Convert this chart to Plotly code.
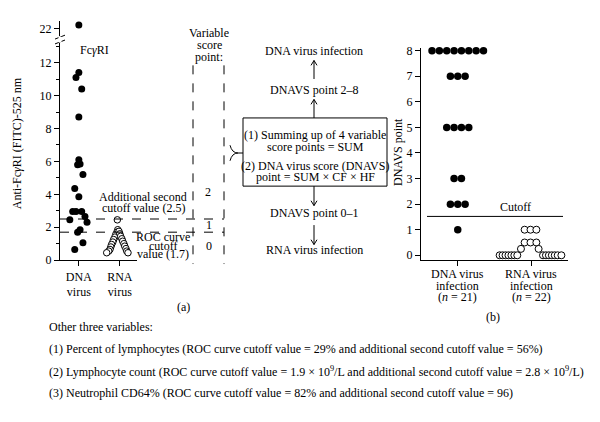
import plotly.graph_objects as go

FONT = "Liberation Serif"

# ---------------- data (a): Fc gamma RI ----------------
groups_a = ["DNA<br>virus", "RNA<br>virus"]
dna_fcr = [22.2, 11.4, 11.1, 10.4, 8.7, 6.1, 5.85, 5.8, 5.2, 4.35, 3.85,
           2.95, 2.95, 2.95, 2.65, 2.45, 2.3, 1.85, 1.7, 1.05, 0.65]
dna_fcr_jit = [0, 0, -0.07, 0.07, 0, 0, 0.03, -0.03, 0.1, -0.1, 0,
               -0.15, -0.07, 0.07, 0.15, -0.22, 0.2, 0.03, -0.03, 0.1, -0.1]
rna_fcr = [2.45, 1.85,
           1.7, 1.55, 1.4, 1.25, 1.1, 0.95, 0.8, 0.65, 0.55, 0.45,
           1.75, 1.6, 1.45, 1.3, 1.15, 1.0, 0.85, 0.7, 0.55, 0.45]
rna_fcr_jit = [-0.06, -0.05,
               -0.07, -0.1, -0.12, -0.15, -0.17, -0.2, -0.22, -0.24, -0.27, -0.32,
               -0.02, 0, 0.02, 0.05, 0.07, 0.1, 0.12, 0.15, 0.17, 0.2]
roc_cutoff = 1.7
second_cutoff = 2.5
break_at = 13

# ---------------- data (b): DNAVS points ----------------
groups_b = [["DNA virus", "infection", "(<i>n</i> = 21)"],
            ["RNA virus", "infection", "(<i>n</i> = 22)"]]
dna_score = [8, 8, 8, 8, 8, 8, 8, 8, 7, 7, 7, 5, 5, 5, 5, 3, 3, 2, 2, 2, 1]
dna_score_jit = [-0.35, -0.25, -0.15, -0.05, 0.05, 0.15, 0.25, 0.35,
                 -0.1, 0, 0.1, -0.15, -0.05, 0.05, 0.15, -0.05, 0.05,
                 -0.1, 0, 0.1, 0]
rna_score = [1, 1, 1, 0.5, 0.5, 0.5, 0.25, 0.25,
             0, 0, 0, 0, 0, 0, 0, 0, 0, 0, 0, 0, 0, 0]
rna_score_jit = [-0.09, -0.01, 0.07, -0.09, -0.01, 0.07, -0.14, 0.1,
                 -0.43, -0.39, -0.35, -0.31, -0.27, -0.23, -0.19,
                 0.16, 0.2, 0.24, 0.28, 0.32, 0.36, 0.41]
score_cutoff = 1.52

W, H = 600, 422
def px(x): return x / W
def py(y): return 1 - y / H

fig = go.Figure()

# (a) lower segment and broken upper segment
lo_x = [1 + j for v, j in zip(dna_fcr, dna_fcr_jit) if v < break_at]
lo_y = [v for v in dna_fcr if v < break_at]
hi_x = [1 + j for v, j in zip(dna_fcr, dna_fcr_jit) if v >= break_at]
hi_y = [v for v in dna_fcr if v >= break_at]
fig.add_trace(go.Scatter(x=lo_x, y=lo_y, mode="markers", xaxis="x", yaxis="y",
                         marker=dict(size=7, color="black"), cliponaxis=False, showlegend=False))
fig.add_trace(go.Scatter(x=hi_x, y=hi_y, mode="markers", xaxis="x", yaxis="y2",
                         marker=dict(size=7, color="black"), cliponaxis=False, showlegend=False))
fig.add_trace(go.Scatter(x=[2 + j for j in rna_fcr_jit], y=rna_fcr, mode="markers",
                         xaxis="x", yaxis="y",
                         marker=dict(size=6.5, color="white", line=dict(color="black", width=1)),
                         cliponaxis=False, showlegend=False))

# (b)
fig.add_trace(go.Scatter(x=[1 + j for j in dna_score_jit], y=dna_score, mode="markers",
                         xaxis="x3", yaxis="y3",
                         marker=dict(size=7.5, color="black"), cliponaxis=False, showlegend=False))
fig.add_trace(go.Scatter(x=[2 + j for j in rna_score_jit], y=rna_score, mode="markers",
                         xaxis="x3", yaxis="y3",
                         marker=dict(size=7, color="white", line=dict(color="black", width=1)),
                         cliponaxis=False, showlegend=False))

axfont = dict(family=FONT, size=12, color="black")
common = dict(showgrid=False, zeroline=False, showline=True, linecolor="black", linewidth=1,
              ticks="outside", ticklen=5, tickcolor="black", tickfont=axfont)

fig.update_layout(
    width=W, height=H, margin=dict(l=0, r=0, t=0, b=0),
    paper_bgcolor="white", plot_bgcolor="white",
    font=dict(family=FONT, size=12, color="black"),
    xaxis=dict(domain=[px(60), px(137)], range=[0.54, 2.42], tickvals=[1, 2],
               ticktext=groups_a, anchor="y", **common),
    yaxis=dict(domain=[py(263), py(40)], range=[0, 13.2], tickvals=[0, 2, 4, 6, 8, 10, 12],
               anchor="x", minor=dict(dtick=1, ticklen=3, ticks="outside", tickcolor="black"),
               **common),
    yaxis2=dict(domain=[py(33), py(17)], range=[21.53, 22.47], tickvals=[22],
                anchor="x", **common),
    xaxis3=dict(domain=[px(421), px(568)], range=[0.5, 2.5], tickvals=[1, 2],
                showticklabels=False, anchor="y3", **common),
    yaxis3=dict(domain=[py(263), py(45)], range=[-0.19, 8.11], tickvals=list(range(9)),
                anchor="x3", **common),
)

shapes = []
dash = dict(color="black", width=1, dash="dash")
for v in (second_cutoff, roc_cutoff):
    shapes.append(dict(type="line", xref="paper", yref="y", x0=px(60), x1=px(224), y0=v, y1=v, line=dash))
for xx in (193, 224):
    shapes.append(dict(type="line", xref="paper", yref="paper", x0=px(xx), x1=px(xx),
                       y0=py(63), y1=py(267), line=dash))
for yy in (34, 39):
    shapes.append(dict(type="line", xref="paper", yref="paper", x0=px(55), x1=px(65),
                       y0=py(yy + 2), y1=py(yy - 2), line=dict(color="black", width=1)))
shapes.append(dict(type="line", xref="paper", yref="paper", x0=px(60), x1=px(60),
                   y0=py(39.5), y1=py(33.5), line=dict(color="white", width=3)))
shapes.append(dict(type="rect", xref="paper", yref="paper", x0=px(243), x1=px(387),
                   y0=py(187), y1=py(117), line=dict(color="black", width=1)))
def P(x, y): return f"{px(x)},{py(y)}"
shapes.append(dict(type="path", xref="paper", yref="paper",
                   path=f"M {P(230,145)} Q {P(232,153)} {P(238,153)} M {P(230,161)} Q {P(232,153)} {P(238,153)} L {P(243,153)}",
                   line=dict(color="black", width=1)))
def arrow(x, y0, y1):
    d = 1 if y1 > y0 else -1
    shapes.append(dict(type="line", xref="paper", yref="paper", x0=px(x), x1=px(x),
                       y0=py(y0), y1=py(y1), line=dict(color="black", width=1)))
    shapes.append(dict(type="path", xref="paper", yref="paper",
                       path=f"M {P(x-3, y1 - d*5)} L {P(x, y1)} L {P(x+3, y1 - d*5)}",
                       line=dict(color="black", width=1)))
arrow(314, 117, 98)
arrow(314, 77, 58)
arrow(314, 187, 207)
arrow(314, 227, 247)
shapes.append(dict(type="line", xref="paper", yref="y3", x0=px(427), x1=px(563),
                   y0=score_cutoff, y1=score_cutoff, line=dict(color="black", width=1)))
fig.update_layout(shapes=shapes)

ann = []
def T(x, y, text, size=12, xanchor="center", angle=0, xref="paper", xx=None):
    ann.append(dict(x=px(x) if xx is None else xx, y=py(y), xref=xref, yref="paper", text=text,
                    showarrow=False, xanchor=xanchor, yanchor="middle", textangle=angle,
                    font=dict(family=FONT, size=size, color="black")))

T(17, 143, "Anti-Fc<i>γ</i>RI (FITC)-525 nm", 12, angle=-90)
T(78, 47, "Fc<i>γ</i>RI", xanchor="left")
T(143, 198, "Additional second")
T(143, 209, "cutoff value (2.5)")
T(163, 239, "ROC curve")
T(163, 248, "cutoff")
T(163, 257, "value (1.7)")
T(209, 30, "Variable")
T(209, 42, "score")
T(209, 54, "point:")
T(208, 193, "2")
T(209, 227, "1")
T(209, 248, "0")
T(314, 48, "DNA virus infection")
T(314, 88, "DNAVS point 2–8")
T(315, 135, "(1) Summing up of 4 variable")
T(315, 147, "score points = SUM")
T(315, 166, "(2) DNA virus score (DNAVS)")
T(315, 178, "point = SUM × CF × HF")
T(314, 215, "DNAVS point 0–1")
T(314, 253, "RNA virus infection")
T(398, 152, "DNAVS point", 12, angle=-90)
T(515, 208, "Cutoff")
for gi, lines in enumerate(groups_b):
    for li, (yy, txt) in enumerate(zip((277, 290, 301), lines)):
        T(0, yy, txt, xref="x3", xx=gi + 1)
T(183, 311, "(a)")
T(493, 321, "(b)")
T(47, 332, "Other three variables:", xanchor="left")
T(47, 354, "(1) Percent of lymphocytes (ROC curve cutoff value = 29% and additional second cutoff value = 56%)", xanchor="left")
T(47, 377, "(2) Lymphocyte count (ROC curve cutoff value = 1.9 × 10<sup>9</sup>/L and additional second cutoff value = 2.8 × 10<sup>9</sup>/L)", xanchor="left")
T(47, 399, "(3) Neutrophil CD64% (ROC curve cutoff value = 82% and additional second cutoff value = 96)", xanchor="left")
fig.update_layout(annotations=ann)

fig.write_html("out.html", config={"displayModeBar": False},
               post_script="document.body.style.margin='0px';")
